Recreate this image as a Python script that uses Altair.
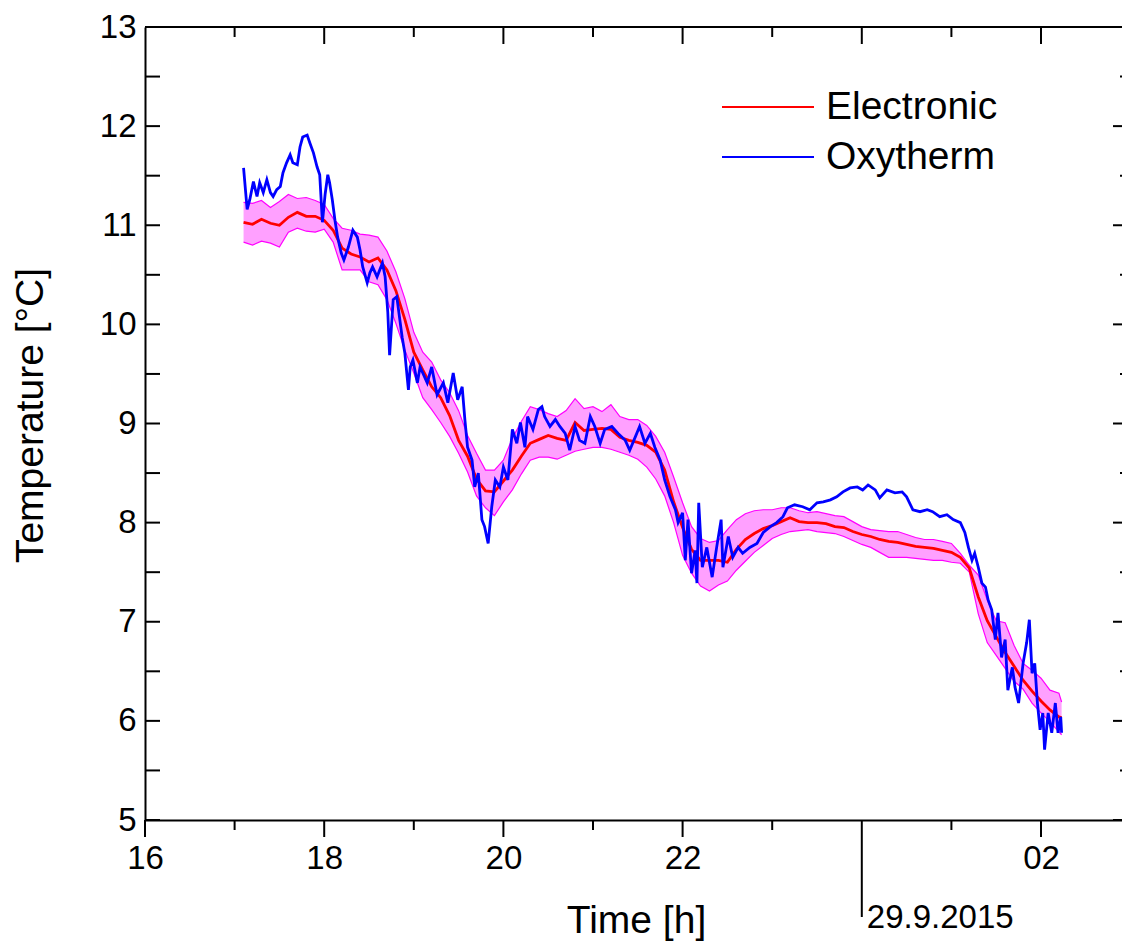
import altair as alt
import pandas as pd

# ---------------- data ----------------
# Electronic sensor: time [h] (24+ = after midnight), mean, band low, band high [°C]
t_e = [17.1, 17.2, 17.3, 17.4, 17.5, 17.6, 17.7, 17.8, 17.9, 18.0,
       18.1, 18.2, 18.3, 18.4, 18.5, 18.6, 18.7, 18.8, 18.9, 19.0,
       19.1, 19.2, 19.3, 19.4, 19.5, 19.6, 19.7, 19.8, 19.9, 20.0,
       20.1, 20.2, 20.3, 20.4, 20.5, 20.6, 20.7, 20.8, 20.9, 21.0,
       21.1, 21.2, 21.3, 21.4, 21.5, 21.6, 21.7, 21.8, 21.9, 22.0,
       22.1, 22.2, 22.3, 22.4, 22.5, 22.6, 22.7, 22.8, 22.9, 23.0,
       23.1, 23.2, 23.3, 23.4, 23.5, 23.6, 23.7, 23.8, 23.9, 24.0,
       24.1, 24.2, 24.3, 24.4, 24.5, 24.6, 24.7, 24.8, 24.9, 25.0,
       25.1, 25.2, 25.3, 25.4, 25.5, 25.6, 25.7, 25.8, 25.9, 26.0,
       26.1, 26.2, 26.23]
e_mid = [11.03, 11.01, 11.06, 11.02, 11.00, 11.08, 11.13, 11.09, 11.09, 11.05,
         10.95, 10.77, 10.71, 10.68, 10.63, 10.67, 10.55, 10.34, 10.05, 9.72,
         9.54, 9.37, 9.26, 9.08, 8.83, 8.67, 8.44, 8.32, 8.31, 8.42,
         8.53, 8.67, 8.80, 8.84, 8.88, 8.85, 8.83, 9.01, 8.93, 8.94,
         8.95, 8.94, 8.86, 8.83, 8.81, 8.78, 8.71, 8.53, 8.21, 7.95,
         7.73, 7.62, 7.62, 7.62, 7.60, 7.73, 7.83, 7.89, 7.94, 7.97,
         8.01, 8.05, 8.01, 8.00, 8.00, 7.99, 7.96, 7.95, 7.91, 7.88,
         7.86, 7.83, 7.81, 7.80, 7.78, 7.76, 7.75, 7.74, 7.72, 7.70,
         7.65, 7.54, 7.25, 7.01, 6.85, 6.69, 6.55, 6.41, 6.30, 6.20,
         6.11, 6.04, 6.03]
e_lo = [10.83, 10.80, 10.84, 10.82, 10.78, 10.93, 10.97, 10.94, 10.93, 10.96,
        10.83, 10.55, 10.55, 10.55, 10.43, 10.40, 10.25, 10.01, 9.74, 9.51,
        9.26, 9.14, 9.01, 8.87, 8.70, 8.51, 8.27, 8.15, 8.07, 8.21,
        8.33, 8.49, 8.63, 8.66, 8.66, 8.64, 8.68, 8.72, 8.74, 8.76,
        8.76, 8.74, 8.71, 8.68, 8.64, 8.56, 8.44, 8.27, 8.00, 7.67,
        7.49, 7.36, 7.31, 7.37, 7.41, 7.52, 7.61, 7.70, 7.77, 7.84,
        7.88, 7.91, 7.92, 7.93, 7.91, 7.90, 7.89, 7.86, 7.82, 7.78,
        7.75, 7.70, 7.65, 7.65, 7.65, 7.64, 7.63, 7.62, 7.62, 7.60,
        7.59, 7.50, 7.08, 6.79, 6.66, 6.53, 6.40, 6.32, 6.18, 6.08,
        5.99, 5.89, 5.86]
e_hi = [11.23, 11.22, 11.25, 11.18, 11.24, 11.31, 11.27, 11.28, 11.25, 11.21,
        11.07, 10.97, 10.95, 10.91, 10.90, 10.88, 10.74, 10.53, 10.26, 9.92,
        9.72, 9.62, 9.44, 9.31, 9.13, 8.88, 8.70, 8.53, 8.53, 8.63,
        8.85, 9.02, 9.17, 9.14, 9.10, 9.07, 9.13, 9.25, 9.15, 9.17,
        9.12, 9.19, 9.07, 9.04, 9.04, 8.98, 8.87, 8.71, 8.46, 8.20,
        7.96, 7.84, 7.80, 7.82, 7.93, 8.03, 8.09, 8.12, 8.13, 8.13,
        8.15, 8.15, 8.12, 8.10, 8.11, 8.09, 8.07, 8.06, 8.01, 7.96,
        7.93, 7.92, 7.91, 7.91, 7.88, 7.85, 7.83, 7.83, 7.81, 7.79,
        7.69, 7.57, 7.47, 7.22, 7.01, 6.99, 6.76, 6.58, 6.51, 6.43,
        6.31, 6.28, 6.19]

# Oxytherm: time [h], temperature [°C]
t_o = [17.10, 17.14, 17.17, 17.21, 17.25, 17.28, 17.32, 17.36, 17.40, 17.43,
       17.47, 17.51, 17.54, 17.58, 17.62, 17.65, 17.70, 17.73, 17.76, 17.81,
       17.84, 17.88, 17.92, 17.95, 17.98, 18.01, 18.04, 18.06, 18.09, 18.12,
       18.15, 18.19, 18.22, 18.27, 18.32, 18.37, 18.40, 18.43, 18.48, 18.51,
       18.54, 18.59, 18.65, 18.68, 18.71, 18.73, 18.77, 18.81, 18.87, 18.90,
       18.94, 18.96, 18.99, 19.04, 19.07, 19.15, 19.20, 19.26, 19.33, 19.38,
       19.44, 19.49, 19.54, 19.57, 19.60, 19.65, 19.68, 19.72, 19.76, 19.79,
       19.83, 19.87, 19.91, 19.96, 20.00, 20.05, 20.10, 20.15, 20.19, 20.24,
       20.27, 20.33, 20.39, 20.43, 20.46, 20.52, 20.58, 20.63, 20.69, 20.74,
       20.80, 20.85, 20.91, 20.97, 21.02, 21.08, 21.13, 21.21, 21.28, 21.36,
       21.41, 21.47, 21.52, 21.58, 21.64, 21.69, 21.75, 21.80, 21.86, 21.92,
       21.95, 22.00, 22.03, 22.06, 22.10, 22.14, 22.16, 22.18, 22.22, 22.27,
       22.33, 22.38, 22.43, 22.45, 22.51, 22.56, 22.62, 22.67, 22.75, 22.83,
       22.90, 22.98, 23.05, 23.12, 23.17, 23.25, 23.34, 23.42, 23.50, 23.57,
       23.65, 23.72, 23.79, 23.87, 23.95, 24.01, 24.07, 24.15, 24.20, 24.28,
       24.37, 24.45, 24.50, 24.57, 24.65, 24.73, 24.79, 24.87, 24.95, 25.02,
       25.10, 25.15, 25.19, 25.23, 25.26, 25.30, 25.34, 25.38, 25.41, 25.45,
       25.49, 25.52, 25.56, 25.60, 25.63, 25.68, 25.71, 25.75, 25.80, 25.84,
       25.87, 25.90, 25.93, 25.96, 25.99, 26.02, 26.04, 26.08, 26.12, 26.16,
       26.19, 26.22, 26.23]
o_val = [11.58, 11.16, 11.26, 11.44, 11.29, 11.43, 11.33, 11.46, 11.33, 11.29,
         11.36, 11.39, 11.53, 11.63, 11.71, 11.63, 11.61, 11.79, 11.89, 11.91,
         11.83, 11.73, 11.59, 11.51, 11.03, 11.31, 11.51, 11.43, 11.26, 11.05,
         10.88, 10.72, 10.65, 10.78, 10.95, 10.88, 10.75, 10.58, 10.42, 10.52,
         10.58, 10.48, 10.62, 10.48, 10.12, 9.69, 10.25, 10.28, 9.87, 9.71,
         9.34, 9.57, 9.64, 9.41, 9.57, 9.41, 9.57, 9.29, 9.41, 9.21,
         9.51, 9.24, 9.37, 9.04, 8.76, 8.63, 8.36, 8.50, 8.03, 7.96,
         7.79, 8.16, 8.43, 8.36, 8.56, 8.43, 8.94, 8.80, 9.01, 8.76,
         9.07, 8.94, 9.14, 9.17, 9.07, 8.97, 9.04, 8.97, 8.90, 8.73,
         8.97, 8.83, 8.80, 9.07, 8.97, 8.80, 8.94, 8.97, 8.90, 8.83,
         8.73, 8.86, 8.97, 8.80, 8.90, 8.76, 8.63, 8.43, 8.26, 8.13,
         8.00, 8.10, 7.62, 8.03, 7.49, 7.72, 7.39, 8.20, 7.55, 7.75,
         7.45, 7.75, 8.03, 7.55, 7.86, 7.65, 7.75, 7.69, 7.75, 7.79,
         7.90, 7.96, 8.00, 8.06, 8.15, 8.18, 8.16, 8.13, 8.20, 8.21,
         8.23, 8.26, 8.31, 8.35, 8.36, 8.33, 8.38, 8.33, 8.25, 8.33,
         8.30, 8.31, 8.26, 8.13, 8.11, 8.13, 8.11, 8.06, 8.08, 8.03,
         8.00, 7.90, 7.75, 7.62, 7.69, 7.55, 7.39, 7.35, 7.22, 7.12,
         6.82, 7.09, 6.64, 6.82, 6.31, 6.54, 6.34, 6.18, 6.58, 6.79,
         7.02, 6.48, 6.58, 6.18, 5.91, 6.08, 5.71, 6.08, 5.88, 6.18,
         5.88, 6.04, 5.88]

# axis ticks / labels
y_ticks = [5, 5.5, 6, 6.5, 7, 7.5, 8, 8.5, 9, 9.5, 10, 10.5, 11, 11.5, 12, 12.5, 13]
y_major = [5, 6, 7, 8, 9, 10, 11, 12, 13]
y_minor = [5.5, 6.5, 7.5, 8.5, 9.5, 10.5, 11.5, 12.5]
x_label_vals = [16, 18, 20, 22, 24, 26]
x_major_bottom = [16, 18, 20, 22, 26]
x_major_top = [18, 20, 22, 24, 26]
x_minor = [17, 19, 21, 23, 25]
midnight = [24]
date_label = ["29.9.2015"]
series_names = ["Electronic", "Oxytherm"]

# ---------------- layout ----------------
W, H = 977, 793
PX_PER_H = 89.6
X_MAX = 16 + W / PX_PER_H
FONT = "Liberation Sans"

XS = alt.Scale(domain=[16, X_MAX], nice=False, zero=False)
YS = alt.Scale(domain=[5, 13], nice=False, zero=False)

X_AX = alt.Axis(values=x_label_vals, title="Time [h]", ticks=False, grid=False,
                domain=True, domainColor="black", domainWidth=2,
                labelExpr="datum.value == 24 ? '' : (datum.value > 24 ? '0' + (datum.value - 24) : '' + datum.value)",
                labelFlush=False, labelOverlap=False, labelPadding=22,
                labelFont=FONT, labelFontSize=33, labelColor="black",
                titleFont=FONT, titleFontSize=39, titleFontWeight="normal", titleColor="black",
                titleX=491, titleY=112, titleBaseline="alphabetic", titleAlign="center")
Y_AX = alt.Axis(values=y_major, title="Temperature [°C]", ticks=False, grid=False,
                domain=True, domainColor="black", domainWidth=2,
                labelFlush=False, labelOverlap=False, labelPadding=9,
                labelFont=FONT, labelFontSize=33, labelColor="black",
                titleFont=FONT, titleFontSize=39, titleFontWeight="normal", titleColor="black",
                titleX=-103, titleY=388, titleBaseline="alphabetic", titleAlign="center",
                titleAngle=270)

df_e = pd.DataFrame({"t": t_e, "mid": e_mid, "lo": e_lo, "hi": e_hi})
df_o = pd.DataFrame({"t": t_o, "val": o_val})


def X(field):
    return alt.X(field, type="quantitative", scale=XS, axis=X_AX)


def Y(field):
    return alt.Y(field, type="quantitative", scale=YS, axis=Y_AX)


band = alt.Chart(df_e).mark_area(color="#FFA0FF", opacity=1).encode(
    x=X("t"), y=Y("lo"), y2="hi")
band_hi = alt.Chart(df_e).mark_line(color="#FF00FF", strokeWidth=1.2).encode(x=X("t"), y=Y("hi"))
band_lo = alt.Chart(df_e).mark_line(color="#FF00FF", strokeWidth=1.2).encode(x=X("t"), y=Y("lo"))
red = alt.Chart(df_e).mark_line(color="#FF0000", strokeWidth=2.8).encode(x=X("t"), y=Y("mid"))
blue = alt.Chart(df_o).mark_line(color="#0000FF", strokeWidth=2.8).encode(x=X("t"), y=Y("val"))


def xticks(vals, y0, y1):
    return alt.Chart(pd.DataFrame({"v": vals})).mark_rule(color="black", strokeWidth=2).encode(
        x=X("v"), y=alt.value(y0), y2=alt.value(y1))


def yticks(vals, x0, x1):
    return alt.Chart(pd.DataFrame({"v": vals})).mark_rule(color="black", strokeWidth=2).encode(
        y=Y("v"), x=alt.value(x0), x2=alt.value(x1))


tick_layers = [
    xticks(x_major_bottom, H, H + 17),
    xticks(x_minor, H, H + 10),
    xticks(midnight, H, H + 97),
    xticks(x_major_top, 0, 17),
    xticks(x_minor, 0, 10),
    yticks(y_ticks, 0, 15),
    yticks(y_major, W - 9, W),
    yticks(y_minor, W - 2, W),
]

top_line = alt.Chart(pd.DataFrame({"a": [0]})).mark_rule(color="black", strokeWidth=2).encode(
    x=alt.value(0), x2=alt.value(W), y=alt.value(0))

date_text = alt.Chart(pd.DataFrame({"v": midnight, "d": date_label})).mark_text(
    align="left", baseline="alphabetic", dx=5, font=FONT, fontSize=33, color="black").encode(
    x=X("v"), y=alt.value(H + 108), text="d:N")

# legend (manual)
leg_colors = ["#FF0000", "#0000FF"]
leg_y = [80, 130]
legend_layers = []
for name, col, ly in zip(series_names, leg_colors, leg_y):
    d = pd.DataFrame({"name": [name]})
    legend_layers.append(alt.Chart(d).mark_rule(color=col, strokeWidth=2).encode(
        x=alt.value(577), x2=alt.value(669), y=alt.value(ly)))
    legend_layers.append(alt.Chart(d).mark_text(
        align="left", baseline="middle", font=FONT, fontSize=39, color="black").encode(
        x=alt.value(681), y=alt.value(ly), text="name:N"))

chart = alt.layer(band, band_hi, band_lo, red, blue, *tick_layers, top_line, date_text,
                  *legend_layers).properties(
    width=W, height=H,
    padding={"left": 145, "top": 27, "right": 0, "bottom": 123},
    autosize=alt.AutoSizeParams(type="none"),
    background="white",
).configure_view(stroke="transparent")

chart.save("out.html", embed_options={"renderer": "svg", "actions": False})
